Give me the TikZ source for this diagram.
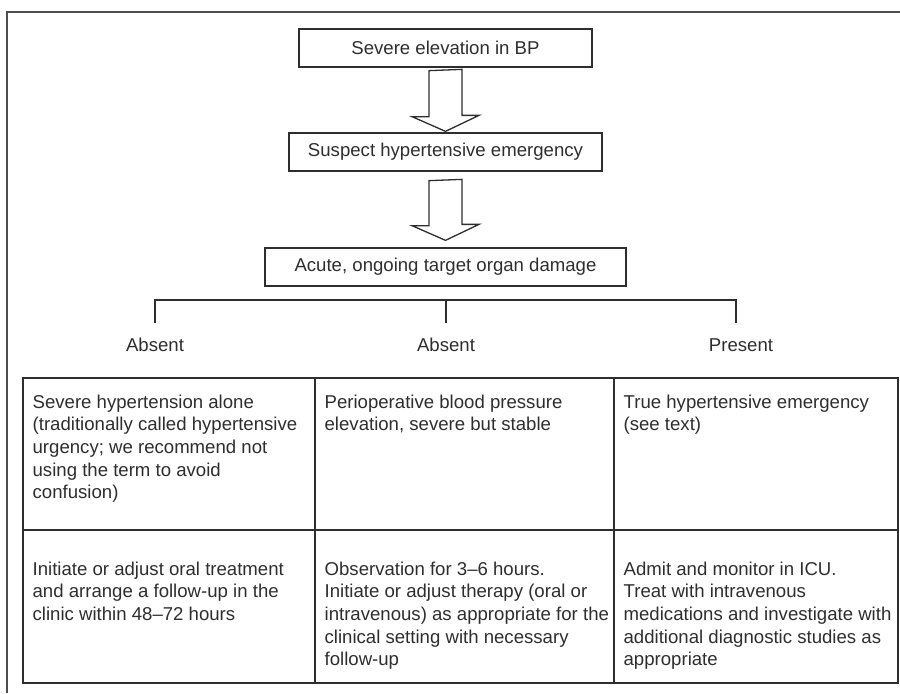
\documentclass[tikz,border=0pt]{standalone}
\usepackage{fontspec}
\setmainfont{Liberation Sans}
\usetikzlibrary{calc}
\definecolor{ink}{HTML}{2E2E2E}
\begin{document}
\begin{tikzpicture}[x=0.5pt,y=-0.5pt,line width=0.65pt,draw=ink,
  font=\fontsize{9.3}{11.33}\selectfont,
  flowbox/.style={draw=ink,minimum height=19pt,inner sep=0pt,text=ink},
  branch/.style={anchor=base,inner sep=0pt,text=ink},
  celltext/.style={anchor=north west,align=left,inner sep=0pt,text=ink}]
\useasboundingbox (0,0) rectangle (900,693);
\draw[color=ink!85] (900,12) -- (7,12) -- (7,693);

\node[flowbox,minimum width=146.5pt] (bp) at (445.5,48) {Severe elevation in BP};
\node[flowbox,minimum width=156.5pt] (sus) at (445.5,152) {Suspect hypertensive emergency};
\node[flowbox,minimum width=180.5pt] (dmg) at (445.5,267) {Acute, ongoing target organ damage};

% block arrows
\draw[color=ink] ($(bp.south)+(-16.5,3)$) -- ++(0,46) -- ++(-17,0) -- ($(sus.north)+(0,-1)$) -- ++(33.5,-16) -- ++(-17,0) -- ++(0,-46) -- cycle;
\draw[color=ink] ($(sus.south)+(-16.5,9)$) -- ++(0,45) -- ++(-17,0) -- ($(dmg.north)+(0,-7)$) -- ++(33.5,-16) -- ++(-17,0) -- ++(0,-45) -- cycle;

% branches
\node[branch] (absA) at (155,351) {Absent};
\node[branch] (absB) at (446,351) {Absent};
\node[branch] (pres) at (741,351) {Present};
\coordinate (dropA) at (155,323);
\coordinate (dropB) at (446,323);
\coordinate (dropC) at (736,323);
\draw[color=ink] (dropA) -- ++(0,-23) -| (dropC);
\draw[color=ink] (dropB) -- ++(0,-23);

% table
\draw[color=ink] (23,378) rectangle (898,683);
\draw[color=ink] (315,378) -- (315,683);
\draw[color=ink] (614,378) -- (614,683);
\draw[color=ink] (23,530) -- (898,530);

\node[celltext] (alone) at (32,394) {Severe hypertension alone\\(traditionally called hypertensive\\urgency; we recommend not\\using the term to avoid\\confusion)};
\node[celltext] (periop) at (324,394) {Perioperative blood pressure\\elevation, severe but stable};
\node[celltext] (true) at (623,394) {True hypertensive emergency\\(see text)};
\node[celltext] (oral) at (32,561) {Initiate or adjust oral treatment\\and arrange a follow-up in the\\clinic within 48--72 hours};
\node[celltext] (observe) at (324,561) {Observation for 3--6 hours.\\Initiate or adjust therapy (oral or\\intravenous) as appropriate for the\\clinical setting with necessary\\follow-up};
\node[celltext] (icu) at (623,561) {Admit and monitor in ICU.\\Treat with intravenous\\medications and investigate with\\additional diagnostic studies as\\appropriate};
\end{tikzpicture}
\end{document}
